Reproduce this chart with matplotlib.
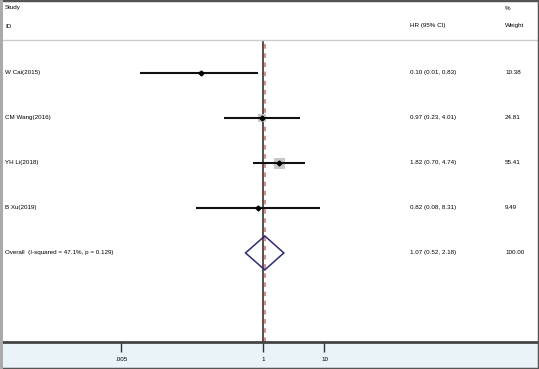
import matplotlib.pyplot as plt
import matplotlib.patches as mpatches
import matplotlib.transforms as mtransforms
import numpy as np

plt.rcParams['font.family'] = ['Liberation Sans', 'DejaVu Sans']

studies = ["W Cai(2015)", "CM Wang(2016)", "YH Li(2018)", "B Xu(2019)"]
hr = [0.10, 0.97, 1.82, 0.82]
lo = [0.01, 0.23, 0.70, 0.08]
hi = [0.83, 4.01, 4.74, 8.31]
weights = [10.38, 24.81, 55.41, 9.49]
hr_text = ["0.10 (0.01, 0.83)", "0.97 (0.23, 4.01)", "1.82 (0.70, 4.74)", "0.82 (0.08, 8.31)"]
weight_text = ["10.38", "24.81", "55.41", "9.49"]

overall_label = "Overall  (I-squared = 47.1%, p = 0.129)"
overall_hr, overall_lo, overall_hi = 1.07, 0.52, 2.18
overall_text = "1.07 (0.52, 2.18)"
overall_weight = "100.00"

tick_vals = [0.005, 1, 10]
tick_labels = [".005", "1", "10"]

W, H = 539, 369
fig = plt.figure(figsize=(W / 100, H / 100), dpi=100)

# bottom light-blue band
fig.patches.append(mpatches.Rectangle((0, 0), 1, (H - 342) / H, transform=fig.transFigure,
                                      facecolor="#eaf3f7", edgecolor="none", zorder=-5))

ax = fig.add_axes([0, (H - 342) / H, 1, (342 - 40) / H])
ax.set_zorder(1)
ax.set_facecolor("none")
ax.set_xscale("log")
ax.set_xlim(10 ** (-263 / 61.5), 10 ** ((W - 263) / 61.5))
ax.set_ylim(6.98, 0.267)

rows = np.arange(1, len(studies) + 1)
for y, h, l, u, w in zip(rows, hr, lo, hi, weights):
    side = 11 * np.sqrt(w / max(weights))
    ax.scatter([h], [y], marker="s", s=(side * 0.72) ** 2, color="#c8c8c8", zorder=2, linewidths=0)
    ax.plot([l, u], [y, y], color="#111111", lw=1.5, zorder=3, solid_capstyle="butt")
    ax.plot([h], [y], marker="D", ms=2.5, color="black", zorder=4)

oy = len(studies) + 1
dh = 17 / 45
ax.add_patch(mpatches.Polygon([(overall_lo, oy), (overall_hr, oy - dh), (overall_hi, oy),
                               (overall_hr, oy + dh)], closed=True, fill=False,
                              edgecolor="#2b2a7c", lw=1.1, zorder=5))

ax.axvline(1, color="#333333", lw=1.2, zorder=1)
ax.axvline(overall_hr, color="#e06666", lw=1.1, ls=(0, (3, 3)), zorder=1)

# text columns
fs = 4.5
tr = mtransforms.blended_transform_factory(fig.transFigure, ax.transData)
for y, s, t, wt in zip(rows, studies, hr_text, weight_text):
    ax.text(5 / W, y, s, transform=tr, fontsize=fs, va="center", ha="left")
    ax.text(410 / W, y, t, transform=tr, fontsize=fs, va="center", ha="left")
    ax.text(505 / W, y, wt, transform=tr, fontsize=fs, va="center", ha="left")
ax.text(5 / W, oy, overall_label, transform=tr, fontsize=fs, va="center", ha="left")
ax.text(410 / W, oy, overall_text, transform=tr, fontsize=fs, va="center", ha="left")
ax.text(505 / W, oy, overall_weight, transform=tr, fontsize=fs, va="center", ha="left")

# header
fig.text(5 / W, 1 - 8 / H, "Study", fontsize=fs, va="center", ha="left")
fig.text(5 / W, 1 - 26 / H, "ID", fontsize=fs, va="center", ha="left")
fig.text(410 / W, 1 - 26 / H, "HR (95% CI)", fontsize=fs, va="center", ha="left")
fig.text(505 / W, 1 - 8 / H, "%", fontsize=fs, va="center", ha="left")
fig.text(505 / W, 1 - 26 / H, "Weight", fontsize=fs, va="center", ha="left")

ax.set_xticks(tick_vals)
ax.set_xticklabels(tick_labels)
ax.xaxis.set_minor_locator(plt.NullLocator())
ax.tick_params(axis="x", direction="out", length=7, width=1, color="#333333",
               labelsize=fs, pad=4)
ax.set_yticks([])
for side in ["left", "right"]:
    ax.spines[side].set_visible(False)
ax.spines["top"].set_color("#cccccc")
ax.spines["top"].set_linewidth(1)
ax.spines["bottom"].set_color("#444444")
ax.spines["bottom"].set_linewidth(2)

# outer frame
fig.patches.append(mpatches.Rectangle((0, 0), 1, 1, transform=fig.transFigure, fill=False,
                                      edgecolor="#555555", lw=2.5, zorder=10))
fig.patches.append(mpatches.Rectangle((0, 0), 3 / W, 1, transform=fig.transFigure,
                                      facecolor="#aaaaaa", edgecolor="none", zorder=11))

fig.savefig("out.png", dpi=100)
